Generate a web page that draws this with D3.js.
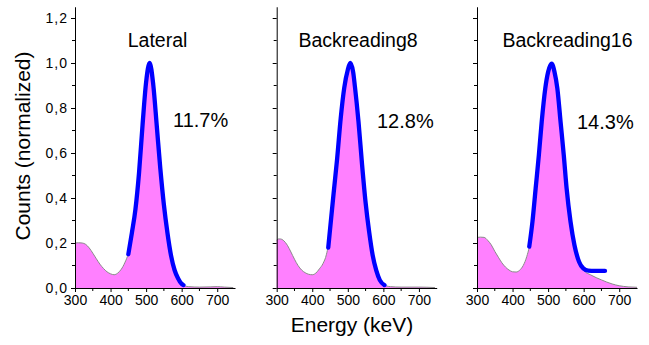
<!DOCTYPE html>
<html>
<head>
<meta charset="utf-8">
<script src="https://cdn.jsdelivr.net/npm/d3@7"></script>
<style>
  body { margin: 0; background: #fff; }
  svg { display: block; font-family: "Liberation Sans", Arial, sans-serif; }
</style>
</head>
<body>
<script>
// data: [energy keV, normalized counts]
var panelNames = ["Lateral", "Backreading8", "Backreading16"];
var resolutions = ["11.7%", "12.8%", "14.3%"];
var xTicks = [300, 400, 500, 600, 700];
var yTicks = [0, 0.2, 0.4, 0.6, 0.8, 1.0, 1.2];
var yTickLabels = ["0,0", "0,2", "0,4", "0,6", "0,8", "1,0", "1,2"];

var spectrumLateral = [[300,0.200],[310,0.201],[320,0.200],[330,0.194],[340,0.178],[350,0.155],[360,0.130],
  [370,0.106],[380,0.087],[390,0.072],[400,0.063],[410,0.059],[420,0.066],[430,0.083],[440,0.112],
  [450,0.155],[460,0.245],[470,0.35],[480,0.51],[490,0.725],[500,0.915],[510,1.0],[520,0.905],
  [530,0.72],[540,0.53],[550,0.37],[560,0.245],[570,0.145],[580,0.08],[590,0.042],[600,0.016],
  [620,0.006],[650,0.004],[680,0.005],[700,0.006],[720,0.004],[745,0.002]];
var fitLateral = [[450,0.15],[460,0.245],[470,0.35],[480,0.51],[490,0.725],[500,0.915],[510,1.0],
  [520,0.905],[530,0.72],[540,0.53],[550,0.37],[560,0.245],[570,0.145],[580,0.08],[590,0.042],
  [600,0.018],[605,0.013]];

var spectrumBack8 = [[300,0.213],[305,0.218],[310,0.218],[320,0.210],[330,0.19],[340,0.16],[350,0.128],
  [360,0.10],[370,0.08],[380,0.068],[390,0.061],[400,0.059],[410,0.066],[420,0.085],[430,0.108],
  [440,0.15],[445,0.19],[450,0.26],[460,0.42],[470,0.575],[480,0.754],[490,0.89],[500,0.97],
  [507,1.0],[515,0.96],[520,0.895],[530,0.74],[540,0.55],[550,0.38],[560,0.25],[570,0.145],
  [580,0.078],[590,0.035],[600,0.015],[620,0.006],[650,0.004],[700,0.004],[745,0.002]];
var fitBack8 = [[445,0.18],[450,0.26],[460,0.42],[470,0.575],[480,0.754],[490,0.89],[500,0.97],
  [507,1.0],[515,0.96],[520,0.895],[530,0.74],[540,0.55],[550,0.38],[560,0.25],[570,0.145],
  [580,0.078],[590,0.035],[603,0.013]];

var spectrumBack16 = [[300,0.225],[310,0.226],[320,0.225],[330,0.212],[340,0.192],[350,0.163],
  [360,0.137],[370,0.112],[380,0.093],[390,0.080],[400,0.072],[410,0.071],[420,0.079],[430,0.100],
  [440,0.140],[447,0.184],[456,0.295],[465,0.443],[474,0.591],[482,0.739],[492,0.887],[500,0.96],
  [510,0.997],[518,0.96],[526,0.887],[535,0.739],[544,0.591],[552,0.443],[563,0.295],[575,0.18],
  [585,0.12],[600,0.078],[620,0.058],[650,0.036],[680,0.018],[700,0.010],[725,0.005],[750,0.003]];
var fitBack16 = [[447,0.184],[456,0.295],[465,0.443],[474,0.591],[482,0.739],[492,0.887],[500,0.96],
  [510,0.997],[518,0.96],[526,0.887],[535,0.739],[544,0.591],[552,0.443],[563,0.295],[574,0.191],
  [587,0.117],[599,0.087],[613,0.077],[630,0.076],[660,0.076]];

var spectra = [spectrumLateral, spectrumBack8, spectrumBack16];
var fits = [fitLateral, fitBack8, fitBack16];

var width = 649, height = 345;
var panelLeft = [75, 276.7, 477];
var panelW = 160, plotTop = 6.75, plotBottom = 288;

var svg = d3.select("body").append("svg")
  .attr("width", width)
  .attr("height", height);

var y = d3.scaleLinear().domain([0, 1.25]).range([plotBottom, plotTop]);

panelNames.forEach(function(name, i) {
  var x = d3.scaleLinear().domain([300, 750]).range([panelLeft[i], panelLeft[i] + panelW]);
  var g = svg.append("g");

  var area = d3.area().curve(d3.curveMonotoneX)
    .x(d => x(d[0])).y0(y(0)).y1(d => y(d[1]));
  var line = d3.line().curve(d3.curveMonotoneX)
    .x(d => x(d[0])).y(d => y(d[1]));

  g.append("path").datum(spectra[i])
    .attr("d", area)
    .attr("fill", "#ff80ff");
  g.append("path").datum(spectra[i])
    .attr("d", line)
    .attr("fill", "none")
    .attr("stroke", "#8a8a8a")
    .attr("stroke-width", 1);

  g.append("path").datum(fits[i])
    .attr("d", line)
    .attr("fill", "none")
    .attr("stroke", "#0000ff")
    .attr("stroke-width", 4.3)
    .attr("stroke-linecap", "round");

  // axes
  var xAxis = d3.axisBottom(x).tickValues(xTicks).tickSize(4).tickSizeOuter(0).tickPadding(3);
  var gx = g.append("g").attr("transform", "translate(0," + plotBottom + ")").call(xAxis);
  gx.attr("font-size", 14).attr("font-family", null);
  gx.selectAll("text").attr("fill", "#000");
  gx.selectAll("line, path").attr("stroke", "#000");
  gx.append("g").selectAll("line").data([350, 450, 550, 650])
    .enter().append("line")
    .attr("x1", d => x(d)).attr("x2", d => x(d))
    .attr("y1", 0).attr("y2", 3)
    .attr("stroke", "#000");

  var yAxis = d3.axisLeft(y).tickValues(yTicks).tickSize(4).tickSizeOuter(0).tickPadding(3)
    .tickFormat((d, k) => i === 0 ? yTickLabels[k] : "");
  var gy = g.append("g").attr("transform", "translate(" + panelLeft[i] + ",0)").call(yAxis);
  gy.attr("font-size", 14).attr("font-family", null);
  gy.selectAll("text").attr("fill", "#000").attr("letter-spacing", 1);
  gy.selectAll("line, path").attr("stroke", "#000");
  gy.append("g").selectAll("line").data([0.1, 0.3, 0.5, 0.7, 0.9, 1.1])
    .enter().append("line")
    .attr("y1", d => y(d)).attr("y2", d => y(d))
    .attr("x1", 0).attr("x2", -3)
    .attr("stroke", "#000");

  g.append("text")
    .attr("x", [157.5, 358, 567.5][i])
    .attr("y", 47)
    .attr("text-anchor", "middle")
    .attr("font-size", 19.5)
    .text(name);

  g.append("text")
    .attr("x", [173, 377, 577][i])
    .attr("y", [127, 128, 129][i])
    .attr("font-size", 20)
    .text(resolutions[i]);
});

svg.append("text")
  .attr("transform", "translate(30,146) rotate(-90)")
  .attr("text-anchor", "middle")
  .attr("font-size", 21)
  .text("Counts (normalized)");

svg.append("text")
  .attr("x", 352)
  .attr("y", 332)
  .attr("text-anchor", "middle")
  .attr("font-size", 21)
  .text("Energy (keV)");
</script>
</body>
</html>
